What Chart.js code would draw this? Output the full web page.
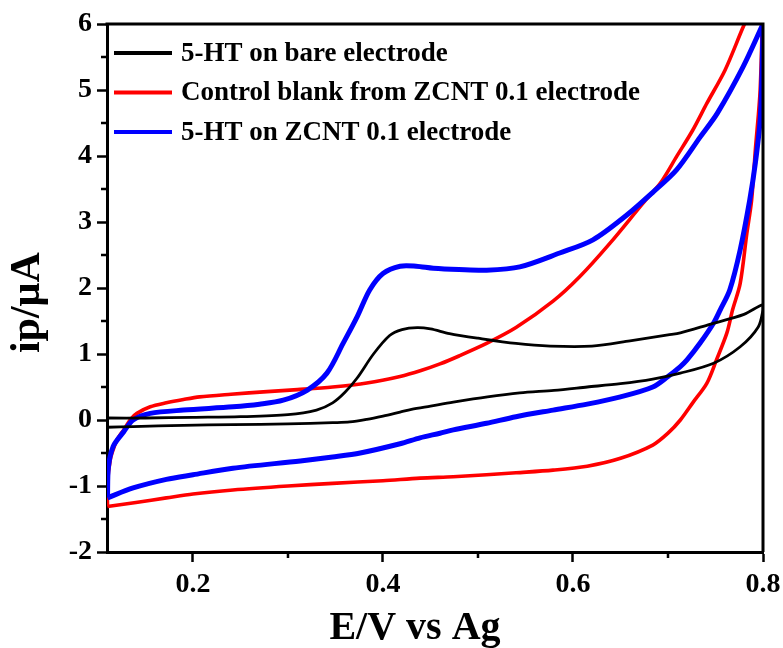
<!DOCTYPE html>
<html><head><meta charset="utf-8">
<script src="https://cdn.jsdelivr.net/npm/chart.js@4/dist/chart.umd.min.js"></script>
<style>html,body{margin:0;padding:0;background:#fff}#wrap{width:783px;height:648px}</style>
</head><body><div id="wrap"><canvas id="c" width="783" height="648"></canvas></div>
<script>
const seriesLabels = ['5-HT on bare electrode', 'Control blank from ZCNT 0.1 electrode', '5-HT on ZCNT 0.1 electrode'];
const seriesColors = ['#000000', '#ff0000', '#0000ff'];

// 5-HT on bare electrode (forward then reverse scan)
const bareE = [0.11,0.15,0.2,0.25,0.3,0.33,0.347,0.36,0.373,0.39,0.407,0.42,0.436,0.45,0.47,0.5,0.54,0.576,0.62,0.66,0.7,0.713,0.744,0.78,0.8,
               0.8,0.795,0.776,0.748,0.713,0.684,0.65,0.615,0.58,0.544,0.51,0.474,0.45,0.43,0.418,0.4,0.383,0.365,0.347,0.3,0.242,0.19,0.137,0.11];
const bareI = [0.03,0.03,0.04,0.05,0.08,0.15,0.26,0.42,0.64,1.0,1.28,1.37,1.40,1.38,1.31,1.24,1.16,1.12,1.12,1.2,1.29,1.32,1.45,1.6,1.75,
               1.67,1.41,1.11,0.86,0.71,0.62,0.55,0.50,0.45,0.41,0.35,0.27,0.21,0.16,0.12,0.06,0.01,-0.03,-0.04,-0.06,-0.07,-0.08,-0.1,-0.11];

// Control blank from ZCNT 0.1 electrode
const blankE = [0.11,0.11,0.113,0.116,0.12,0.127,0.135,0.141,0.155,0.172,0.19,0.207,0.24,0.278,0.31,0.347,0.383,0.418,0.44,0.46,0.48,0.509,0.54,0.579,0.607,0.639,0.674,0.692,0.709,0.726,0.741,0.76,0.779,0.79,0.8,
                0.8,0.797,0.792,0.788,0.783,0.776,0.768,0.762,0.751,0.741,0.726,0.713,0.70,0.684,0.65,0.615,0.579,0.54,0.509,0.474,0.439,0.4,0.347,0.3,0.242,0.2,0.172,0.14,0.11];
const blankI = [-1.31,-0.95,-0.6,-0.45,-0.3,-0.15,0.02,0.1,0.2,0.26,0.31,0.35,0.39,0.43,0.46,0.5,0.56,0.66,0.75,0.85,0.97,1.16,1.4,1.8,2.17,2.68,3.29,3.59,3.99,4.39,4.8,5.3,5.95,6.3,6.7,
                6.5,5.0,4.1,3.33,2.83,2.07,1.67,1.32,0.91,0.56,0.26,0.0,-0.2,-0.38,-0.58,-0.7,-0.76,-0.8,-0.83,-0.86,-0.88,-0.92,-0.96,-1.0,-1.06,-1.12,-1.18,-1.25,-1.31];

// 5-HT on ZCNT 0.1 electrode
const zcntE = [0.11,0.111,0.116,0.127,0.137,0.155,0.19,0.242,0.27,0.295,0.32,0.341,0.358,0.373,0.386,0.4,0.418,0.435,0.453,0.48,0.509,0.544,0.586,0.621,0.657,0.684,0.709,0.734,0.752,0.779,0.8,
               0.8,0.799,0.797,0.792,0.786,0.776,0.765,0.755,0.748,0.734,0.72,0.713,0.7,0.684,0.65,0.615,0.579,0.54,0.509,0.474,0.46,0.439,0.418,0.376,0.347,0.313,0.242,0.2,0.172,0.137,0.11];
const zcntI = [-1.18,-0.71,-0.4,-0.18,0.0,0.1,0.15,0.2,0.24,0.3,0.45,0.71,1.16,1.57,1.97,2.22,2.33,2.33,2.3,2.28,2.27,2.32,2.53,2.73,3.11,3.45,3.79,4.29,4.65,5.35,6.0,
               6.0,5.3,4.55,3.9,3.33,2.58,1.97,1.67,1.47,1.17,0.91,0.81,0.66,0.5,0.35,0.24,0.15,0.05,-0.05,-0.15,-0.2,-0.27,-0.36,-0.5,-0.56,-0.62,-0.73,-0.83,-0.9,-1.03,-1.18];

const xMajorTicks = [0.2, 0.4, 0.6, 0.8];
const xMinorTicks = [0.3, 0.5, 0.7];
const yMajorTicks = [-2, -1, 0, 1, 2, 3, 4, 5, 6];
const yMinorTicks = [-1.5, -0.5, 0.5, 1.5, 2.5, 3.5, 4.5, 5.5];

const FONT = '"Liberation Serif", "Times New Roman", serif';
const toPts = (xs, ys) => xs.map((x, i) => ({x: x, y: ys[i]}));

const framePlugin = {
  id: 'frame',
  afterDraw(chart) {
    const ctx = chart.ctx, a = chart.chartArea;
    const xs = chart.scales.x, ys = chart.scales.y;
    ctx.save();
    ctx.strokeStyle = '#000';
    ctx.lineWidth = 3;
    ctx.beginPath();
    ctx.moveTo(a.left - 1.5, a.top); ctx.lineTo(a.right, a.top); ctx.lineTo(a.right, a.bottom);
    ctx.stroke();
    ctx.lineWidth = 2.5;
    ctx.beginPath();
    xMinorTicks.forEach(v => { const px = xs.getPixelForValue(v); ctx.moveTo(px, a.bottom); ctx.lineTo(px, a.bottom + 6); });
    yMinorTicks.forEach(v => { const py = ys.getPixelForValue(v); ctx.moveTo(a.left, py); ctx.lineTo(a.left - 6, py); });
    ctx.stroke();
    ctx.restore();
  }
};

const legendPlugin = {
  id: 'insideLegend',
  afterDatasetsDraw(chart) {
    const ctx = chart.ctx, a = chart.chartArea;
    ctx.save();
    chart.data.datasets.forEach((ds, i) => {
      const y = a.top + 29 + i * 39.5;
      ctx.strokeStyle = ds.borderColor;
      ctx.lineWidth = 4;
      ctx.beginPath();
      ctx.moveTo(a.left + 7, y); ctx.lineTo(a.left + 65, y);
      ctx.stroke();
      ctx.fillStyle = '#000';
      ctx.font = 'bold 27px ' + FONT;
      ctx.textBaseline = 'middle';
      ctx.textAlign = 'left';
      ctx.fillText(ds.label, a.left + 74, y + 1);
    });
    ctx.restore();
  }
};

new Chart(document.getElementById('c'), {
  type: 'scatter',
  data: {
    datasets: [
      {label: seriesLabels[0], data: toPts(bareE, bareI), borderColor: seriesColors[0], borderWidth: 2.8, order: 0},
      {label: seriesLabels[1], data: toPts(blankE, blankI), borderColor: seriesColors[1], borderWidth: 3.6, order: 2},
      {label: seriesLabels[2], data: toPts(zcntE, zcntI), borderColor: seriesColors[2], borderWidth: 5, order: 1}
    ].map(d => Object.assign(d, {showLine: true, pointRadius: 0, pointHoverRadius: 0, tension: 0.3, fill: false}))
  },
  options: {
    responsive: false,
    animation: false,
    devicePixelRatio: 1,
    layout: {padding: {left: 0, right: 20, top: 24, bottom: 0}},
    plugins: {legend: {display: false}, tooltip: {enabled: false}},
    scales: {
      x: {
        type: 'linear', min: 0.1095, max: 0.8,
        afterBuildTicks: s => { s.ticks = xMajorTicks.map(v => ({value: v})); },
        afterFit: s => { s.height = 96; s.paddingRight = 0; s.paddingLeft = 0; },
        border: {display: true, width: 3, color: '#000'},
        grid: {drawOnChartArea: false, drawTicks: true, tickLength: 10, tickWidth: 2.5, tickColor: '#000'},
        ticks: {color: '#000', font: {family: FONT, size: 28, weight: 'bold'}, padding: 6, maxRotation: 0,
                callback: v => v.toFixed(1)},
        title: {display: true, text: 'E/V vs Ag    ', color: '#000', font: {family: FONT, size: 40, weight: 'bold', lineHeight: 0.9}, padding: {top: 0, bottom: 1}}
      },
      y: {
        type: 'linear', min: -2, max: 6,
        afterBuildTicks: s => { s.ticks = yMajorTicks.map(v => ({value: v})); },
        afterFit: s => { s.width = 107; s.paddingTop = 0; s.paddingBottom = 0; },
        border: {display: true, width: 3, color: '#000'},
        grid: {drawOnChartArea: false, drawTicks: true, tickLength: 10, tickWidth: 2.5, tickColor: '#000'},
        ticks: {color: '#000', font: {family: FONT, size: 28, weight: 'bold'}, padding: 5,
                callback: v => String(v)},
        title: {display: true, text: 'ip/\u03bcA  \u2009', color: '#000', font: {family: FONT, size: 42, weight: 'bold', lineHeight: 1.2}, padding: {top: 3, bottom: 0}}
      }
    }
  },
  plugins: [framePlugin, legendPlugin]
});
</script></body></html>
